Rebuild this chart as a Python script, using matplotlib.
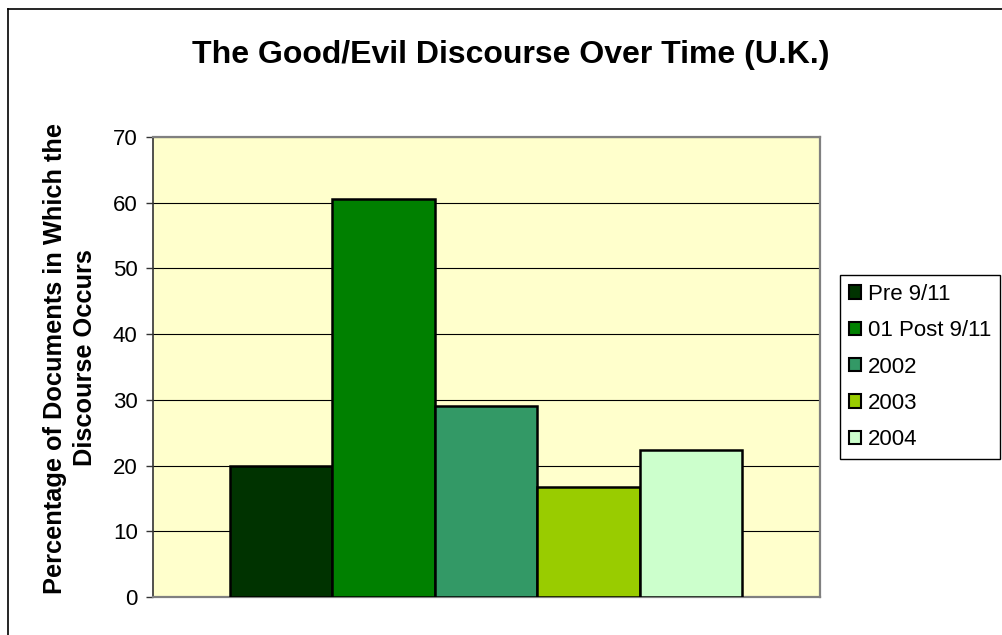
import matplotlib.pyplot as plt
from matplotlib.patches import Patch
from matplotlib.lines import Line2D

plt.rcParams['font.family'] = ['Liberation Sans', 'DejaVu Sans']

periods = ['Pre 9/11', '01 Post 9/11', '2002', '2003', '2004']
percent = [20.0, 60.6, 29.1, 16.7, 22.4]
colours = ['#003300', '#008000', '#339966', '#99CC00', '#CCFFCC']
yticks = [0, 10, 20, 30, 40, 50, 60, 70]

W, H = 1003, 635
fig = plt.figure(figsize=(W / 100, H / 100), dpi=100)
fig.patch.set_facecolor('white')

# outer chart frame (top and left edges show)
fig.add_artist(Line2D([8 / W, 8 / W], [0, 1 - 9 / H], color='black', lw=1.2))
fig.add_artist(Line2D([8 / W, 1], [1 - 9 / H, 1 - 9 / H], color='black', lw=1.2))

ax = fig.add_axes([153 / W, 1 - 597 / H, (820 - 153) / W, (597 - 137) / H])
ax.set_facecolor('#FFFFCC')

xpos = list(range(len(periods)))
ax.bar(xpos, percent, width=1.0, color=colours, edgecolor='black', linewidth=1.8, zorder=3)

ax.set_xlim(-1.252, 5.262)
ax.set_ylim(0, 70)
ax.set_yticks(yticks)
ax.set_xticks([])
ax.yaxis.grid(True, color='black', lw=0.8, zorder=1)
ax.tick_params(axis='y', direction='out', length=5, width=1, color='#333333',
               labelsize=16, pad=6)
for s in ax.spines.values():
    s.set_color('#808080')
    s.set_linewidth(1.6)
ax.spines['left'].set_color('#333333')
ax.spines['left'].set_linewidth(1.2)

fig.text(511 / W, 1 - 55 / H, 'The Good/Evil Discourse Over Time (U.K.)',
         ha='center', va='center', fontsize=23, fontweight='bold')
fig.text(70 / W, 1 - 358 / H, 'Percentage of Documents in Which the\nDiscourse Occurs',
         ha='center', va='center', rotation=90, fontsize=18.3, fontweight='bold',
         linespacing=1.3, multialignment='center')

handles = [Patch(facecolor=c, edgecolor='black', linewidth=1.5) for c in colours]
leg = fig.legend(handles, periods, loc='upper left',
                 bbox_to_anchor=(840 / W, 1 - 275 / H), fontsize=16,
                 labelspacing=0.69, handlelength=0.55, handleheight=0.55,
                 handletextpad=0.3, borderpad=0.4, borderaxespad=0,
                 fancybox=False, framealpha=1, edgecolor='black')
leg.get_frame().set_linewidth(1.0)

fig.savefig('out.png', dpi=100)
